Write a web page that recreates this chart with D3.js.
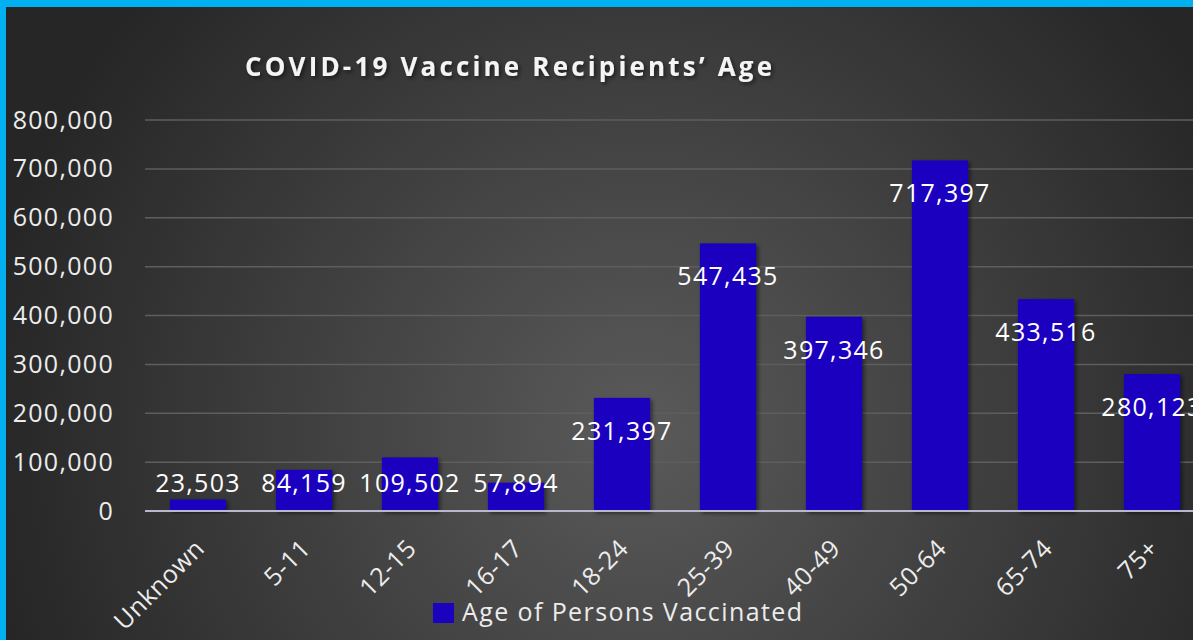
<!DOCTYPE html>
<html>
<head>
<meta charset="utf-8">
<script src="https://cdn.jsdelivr.net/npm/d3@7"></script>
<style>
  html, body { margin: 0; padding: 0; background: #2b2b2b; overflow: hidden; }
  text { font-family: "Open Sans", Lato, sans-serif; }
</style>
</head>
<body>
<script>
var categories = ["Unknown", "5-11", "12-15", "16-17", "18-24", "25-39", "40-49", "50-64", "65-74", "75+"]
var values = [23503, 84159, 109502, 57894, 231397, 547435, 397346, 717397, 433516, 280123]
var yTicks = [0, 100000, 200000, 300000, 400000, 500000, 600000, 700000, 800000]
var seriesName = "Age of Persons Vaccinated"
var title = "COVID-19 Vaccine Recipients\u2019 Age"

var w = 1193
var h = 640
var barColor = "#1a02bf"
var textColor = "#ececec"

var svg = d3.select("body").append("svg")
  .attr("width", w)
  .attr("height", h)

var defs = svg.append("defs")
var grad = defs.append("radialGradient")
  .attr("id", "bg")
  .attr("gradientUnits", "userSpaceOnUse")
  .attr("cx", 640).attr("cy", 430).attr("r", 660)
grad.append("stop").attr("offset", "0").attr("stop-color", "#5a5a5a")
grad.append("stop").attr("offset", "0.5").attr("stop-color", "#404040")
grad.append("stop").attr("offset", "1").attr("stop-color", "#262626")

var shadow = defs.append("filter").attr("id", "shadow")
  .attr("x", "-20%").attr("y", "-20%").attr("width", "140%").attr("height", "140%")
shadow.append("feDropShadow")
  .attr("dx", 2).attr("dy", 2).attr("stdDeviation", 2)
  .attr("flood-color", "#000").attr("flood-opacity", 0.55)

// frame: cyan border on top and left
svg.append("rect").attr("width", w).attr("height", h).attr("fill", "#00b0f0")
svg.append("rect").attr("x", 6).attr("y", 7).attr("width", w - 6).attr("height", h - 7)
  .attr("fill", "url(#bg)")

var x = d3.scaleBand()
  .domain(categories)
  .range([145, 1205])
  .paddingInner(0.47)
  .paddingOuter(0.235)

var y = d3.scaleLinear()
  .domain([0, 800000])
  .range([511, 120])

// gridlines
svg.append("g")
  .selectAll("line")
  .data(yTicks.filter(function (d) { return d > 0 }))
  .enter()
  .append("line")
  .attr("x1", 145).attr("x2", w)
  .attr("y1", function (d) { return y(d) }).attr("y2", function (d) { return y(d) })
  .attr("stroke", "#5e5e5e")
  .attr("stroke-width", 1.5)

// y axis labels
var yAxis = svg.append("g")
  .attr("transform", "translate(114,0)")
  .call(d3.axisLeft(y).tickValues(yTicks).tickSize(0).tickPadding(0)
    .tickFormat(d3.format(",")))
yAxis.select(".domain").remove()
yAxis.selectAll("text")
  .attr("fill", textColor)
  .style("font-size", "25px")
  .style("letter-spacing", "1.3px")
  .style("font-family", "'Open Sans', Lato, sans-serif")

// bars
svg.append("g")
  .selectAll("rect")
  .data(values)
  .enter()
  .append("rect")
  .attr("x", function (d, i) { return x(categories[i]) })
  .attr("y", function (d) { return y(d) })
  .attr("width", x.bandwidth())
  .attr("height", function (d) { return y(0) - y(d) })
  .attr("fill", barColor)
  .attr("filter", "url(#shadow)")

// zero axis line
svg.append("line")
  .attr("x1", 145).attr("x2", w)
  .attr("y1", y(0)).attr("y2", y(0))
  .attr("stroke", "#b8b8cc")
  .attr("stroke-width", 2)

// data labels
svg.append("g")
  .selectAll("text")
  .data(values)
  .enter()
  .append("text")
  .attr("x", function (d, i) { return x(categories[i]) + x.bandwidth() / 2 })
  .attr("y", function (d) { return Math.min(y(d) + 33, 483) })
  .attr("dy", "0.36em")
  .attr("text-anchor", "middle")
  .attr("fill", "#ffffff")
  .style("font-size", "25px")
  .style("letter-spacing", "1.3px")
  .text(function (d) { return d3.format(",")(d) })

// category labels
svg.append("g")
  .selectAll("text")
  .data(categories)
  .enter()
  .append("text")
  .attr("transform", function (d) {
    return "translate(" + (x(d) + x.bandwidth() / 2 + 8) + ",550) rotate(-45)"
  })
  .attr("text-anchor", "end")
  .attr("fill", textColor)
  .style("font-size", "25px")
  .style("letter-spacing", "0.5px")
  .text(function (d) { return d })

// title
svg.append("text")
  .attr("x", 245).attr("y", 76)
  .attr("textLength", 527)
  .attr("lengthAdjust", "spacing")
  .attr("fill", "#f4f4f4")
  .attr("filter", "url(#shadow)")
  .style("font-size", "26px")
  .style("font-weight", "bold")
  .text(title)

// legend
var legend = svg.append("g")
legend.append("rect")
  .attr("x", 433).attr("y", 603).attr("width", 21).attr("height", 20)
  .attr("fill", barColor)
legend.append("text")
  .attr("x", 462).attr("y", 621)
  .attr("textLength", 340)
  .attr("lengthAdjust", "spacing")
  .attr("fill", textColor)
  .style("font-size", "25px")
  .text(seriesName)
</script>
</body>
</html>
